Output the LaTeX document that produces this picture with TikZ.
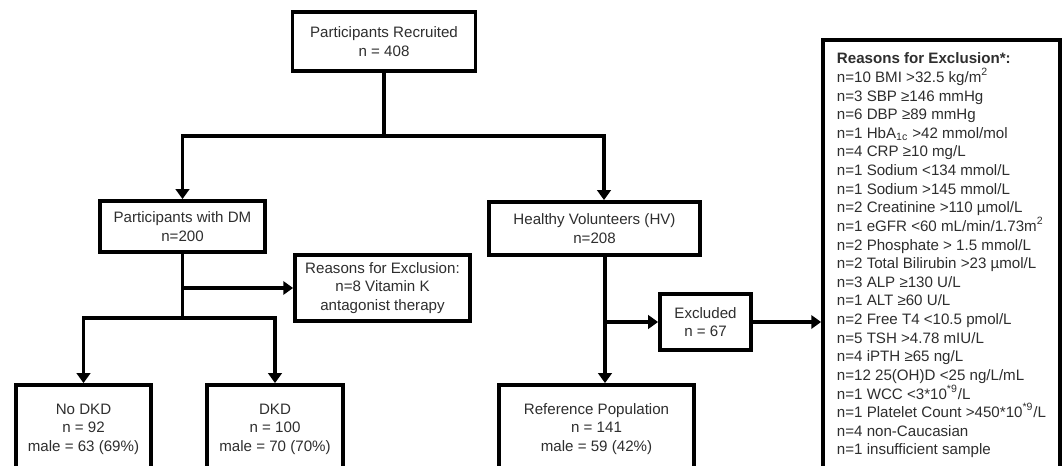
\documentclass[tikz,border=0pt]{standalone}
\usepackage{fontspec}
\setmainfont{Liberation Sans}
\usetikzlibrary{arrows.meta}
\newcommand\fs{\fontsize{8.6}{10.6}\selectfont}
\begin{document}
\begin{tikzpicture}[x=0.02cm,y=-0.02cm,
  box/.style={draw=black, text=black!82, line width=2.2pt, align=center, inner sep=0pt, font=\fs},
  conn/.style={line width=2pt},
  arr/.style={line width=2pt, -{Triangle[length=5.6pt,width=7.6pt]}}]
\useasboundingbox (0,0) rectangle (1064,466);
\fill[white] (0,0) rectangle (1064,466);
\clip (0,0) rectangle (1064,466);

\node[box, minimum width=3.66cm, minimum height=1.18cm] (top) at (384,41.5) {Participants Recruited\\n = 408};
\node[box, minimum width=3.3cm, minimum height=1.02cm] (dm) at (182.5,226.5) {Participants with DM\\n=200};
\node[box, minimum width=3.5cm, minimum height=1.32cm] (rdm) at (382.5,288) {Reasons for Exclusion:\\n=8 Vitamin K\\antagonist therapy};
\node[box, minimum width=2.7cm, minimum height=1.76cm] (nodkd) at (83.5,429) {No DKD\\n = 92\\male = 63 (69\%)};
\node[box, minimum width=2.72cm, minimum height=1.76cm] (dkd) at (275,429) {DKD\\n = 100\\male = 70 (70\%)};
\node[box, minimum width=4.22cm, minimum height=1.06cm] (hv) at (594.5,228.5) {Healthy Volunteers (HV)\\n=208};
\node[box, minimum width=1.82cm, minimum height=1.12cm] (excl) at (705.5,322) {Excluded\\n = 67};
\node[box, minimum width=3.9cm, minimum height=1.76cm] (ref) at (596.5,429) {Reference Population\\n = 141\\male = 59 (42\%)};
\node[box, align=left, minimum width=4.74cm, minimum height=8.62cm] (big) at (941.5,255.5) {%
\textbf{Reasons for Exclusion*:}\\
n=10 BMI >32.5 kg/m\textsuperscript{2}\\
n=3 SBP ≥146 mmHg\\
n=6 DBP ≥89 mmHg\\
n=1 HbA\textsubscript{1c} >42 mmol/mol\\
n=4 CRP ≥10 mg/L\\
n=1 Sodium <134 mmol/L\\
n=1 Sodium >145 mmol/L\\
n=2 Creatinine >110 µmol/L\\
n=1 eGFR <60 mL/min/1.73m\textsuperscript{2}\\
n=2 Phosphate > 1.5 mmol/L\\
n=2 Total Bilirubin >23 µmol/L\\
n=3 ALP ≥130 U/L\\
n=1 ALT ≥60 U/L\\
n=2 Free T4 <10.5 pmol/L\\
n=5 TSH >4.78 mIU/L\\
n=4 iPTH ≥65 ng/L\\
n=12 25(OH)D <25 ng/L/mL\\
n=1 WCC <3*10\textsuperscript{*9}/L\\
n=1 Platelet Count >450*10\textsuperscript{*9}/L\\
n=4 non-Caucasian\\
n=1 insufficient sample};

\coordinate (jtop) at (384,136);
\coordinate (jhv) at (604,136);
\coordinate (jdm) at (182.5,318);
\coordinate (bdm) at (182.5,288);
\coordinate (shv) at (605,255);
\coordinate (bhv) at (605,322);

\draw[conn] (top.south) -- (jtop);
\draw[arr] (jtop) -- (dm.north |- jtop) -- (dm.north);
\draw[arr] (jtop) -- (jhv) -- (jhv |- hv.north);
\draw[conn] (dm.south) -- (jdm);
\draw[arr] (bdm) -- (rdm.west);
\draw[arr] (jdm) -- (nodkd.north |- jdm) -- (nodkd.north);
\draw[arr] (jdm) -- (dkd.north |- jdm) -- (dkd.north);
\draw[arr] (shv) -- (shv |- ref.north);
\draw[arr] (bhv) -- (excl.west);
\draw[arr] (excl.east) -- (excl.east -| big.west);
\end{tikzpicture}
\end{document}
